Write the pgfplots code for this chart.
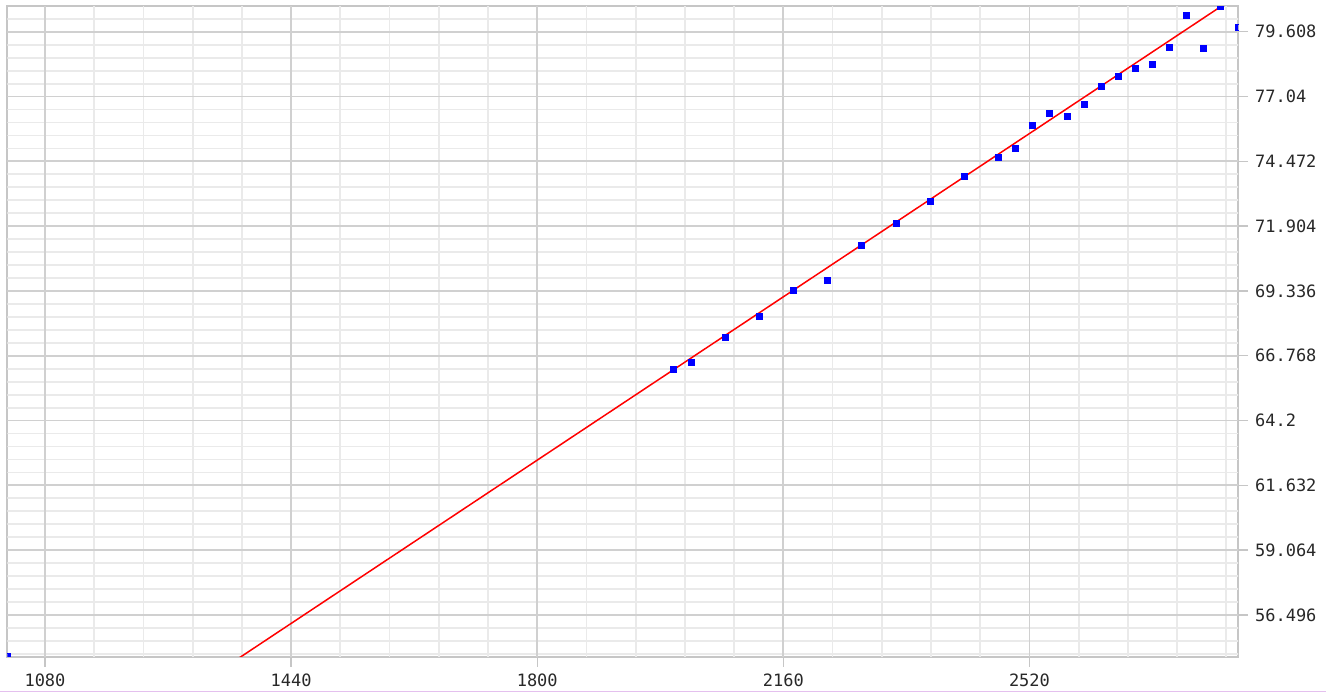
\documentclass[border=0pt]{standalone}
\usepackage{pgfplots}
\pgfplotsset{compat=1.18}
\usepackage{fontspec}
\setmonofont{DejaVu Sans Mono}
\definecolor{majgrid}{RGB}{208,208,208}
\definecolor{mingrid}{RGB}{234,234,234}
\definecolor{framegray}{RGB}{198,198,198}
\definecolor{edgepink}{RGB}{228,192,238}
\definecolor{labeltext}{RGB}{40,40,40}

\begin{document}
\begin{tikzpicture}
\useasboundingbox (0,0) rectangle (665pt,347pt);
\begin{axis}[
  at={(3.7pt,18.65pt)}, anchor=south west,
  scale only axis, width=615.3pt, height=325.3pt,
  xmin=1025, xmax=2825, ymin=54.843, ymax=80.626,
  xtick={1080,1440,1800,2160,2520},
  xticklabels={1080,1440,1800,2160,2520},
  ytick={56.496,59.064,61.632,64.2,66.768,69.336,71.904,74.472,77.04,79.608},
  yticklabels={56.496,59.064,61.632,64.2,66.768,69.336,71.904,74.472,77.04,79.608},
  minor x tick num=0, minor y tick num=0,
  yticklabel pos=right, ytick pos=right, xtick pos=lower,
  axis line style={framegray, line width=0.9pt},
  tick align=outside,
  major tick length=5pt,
  tick style={framegray, line width=0.7pt},
  ticklabel style={font=\ttfamily\fontsize{8.5}{10}\selectfont, text=labeltext},
  clip marker paths=true,
]
% minor grid
\pgfplotsinvokeforeach{1152,1224,1296,1368,1512,1584,1656,1728,1872,1944,2016,2088,
  2232,2304,2376,2448,2592,2664,2736,2808}{
  \draw[mingrid, line width=0.9pt] (#1,54) -- (#1,81);
}
\pgfplotsinvokeforeach{54.9552,55.4688,55.9824,57.0096,57.5232,58.0368,58.5504,
  59.5776,60.0912,60.6048,61.1184,62.1456,62.6592,63.1728,63.6864,
  64.7136,65.2272,65.7408,66.2544,67.2816,67.7952,68.3088,68.8224,
  69.8496,70.3632,70.8768,71.3904,72.4176,72.9312,73.4448,73.9584,
  74.9856,75.4992,76.0128,76.5264,77.5536,78.0672,78.5808,79.0944,80.1216}{
  \draw[mingrid, line width=0.9pt] (1000,#1) -- (2900,#1);
}
% major grid
\pgfplotsinvokeforeach{1080,1440,1800,2160,2520}{
  \draw[majgrid, line width=0.9pt] (#1,54) -- (#1,81);
}
\pgfplotsinvokeforeach{56.496,59.064,61.632,64.2,66.768,69.336,71.904,74.472,77.04,79.608}{
  \draw[majgrid, line width=0.9pt] (1000,#1) -- (2900,#1);
}
% fitted trend line
\addplot[red, line width=0.75pt] coordinates {(1300,53.644) (2825,81.059)};
% observations
\addplot[only marks, mark=square*, mark size=1.5pt,
  mark options={draw=blue, fill=blue, line width=0pt}] coordinates {
  (1025,54.843)
  (2000,66.243) (2025,66.520) (2075,67.483) (2125,68.315) (2175,69.361)
  (2225,69.769) (2275,71.156) (2325,72.028) (2375,72.900) (2425,73.878)
  (2475,74.643) (2500,74.988) (2525,75.899) (2550,76.375) (2575,76.256)
  (2600,76.731) (2625,77.429) (2650,77.825) (2675,78.170) (2700,78.328)
  (2725,79.002) (2750,80.270) (2775,78.950) (2800,80.599) (2825,79.782)
};
\end{axis}
\draw[edgepink, line width=0.8pt] (0,1.15pt) -- (663pt,1.15pt);
\end{tikzpicture}
\end{document}
